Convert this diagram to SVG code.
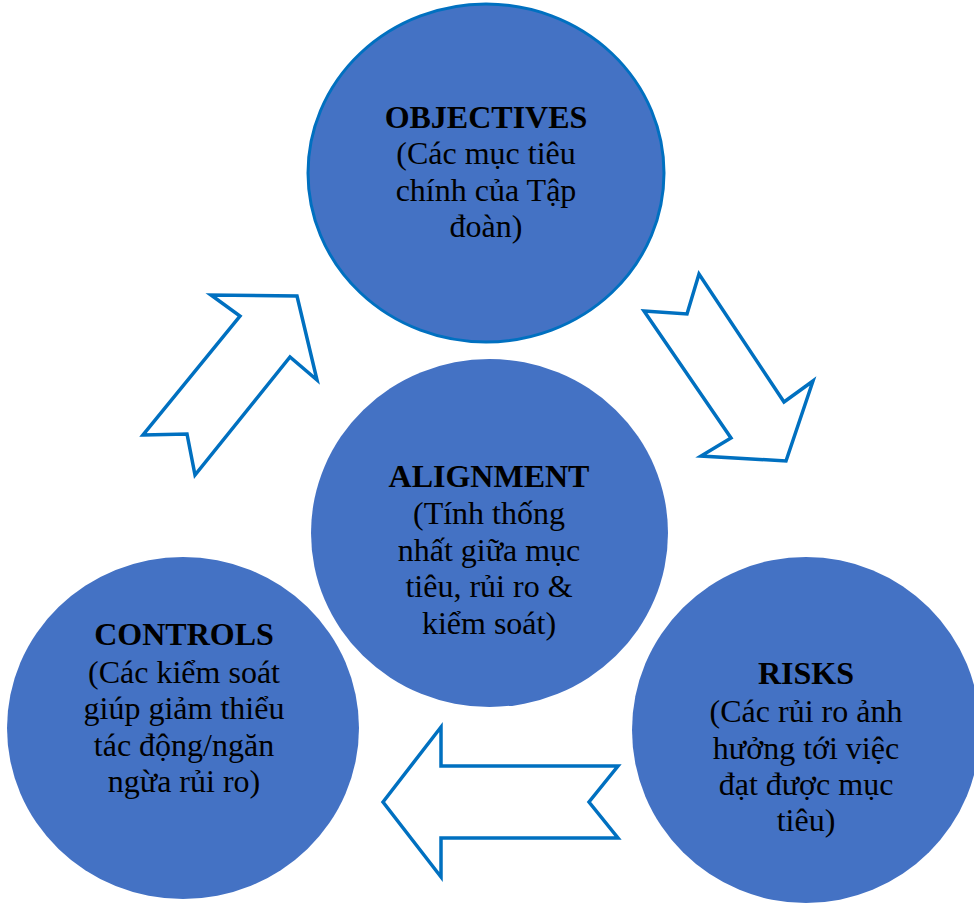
<svg xmlns="http://www.w3.org/2000/svg" width="974" height="906" viewBox="0 0 974 906">
  <style>
    .node { fill: #4472C4; }
    .ring { stroke: #0070C0; stroke-width: 3; }
    .arrow { fill: #FFFFFF; stroke: #0070C0; stroke-width: 3.5; stroke-linejoin: miter; }
    text { font-family: "Liberation Serif", "Times New Roman", serif; font-size: 32px; fill: #000000; text-anchor: middle; }
    .title { font-weight: bold; }
  </style>
  <rect width="974" height="906" fill="#FFFFFF"/>

  <g id="connectors">
    <!-- controls -> objectives -->
    <polygon class="arrow" points="143,435 187,434 195,475 290,357 317,380 297,296 211,295 240,316"/>
    <!-- objectives -> risks -->
    <polygon class="arrow" points="699,274 687,314 644,311 731,438 701,456 786,461 813,381 784,402"/>
    <!-- risks -> controls -->
    <polygon class="arrow" points="383,802 441,727 441,766 618,766 589,802 618,838 441,838 441,877"/>
  </g>

  <g id="objectives">
    <ellipse class="node ring" cx="486" cy="173" rx="178" ry="169"/>
    <text x="486" y="128" class="title">OBJECTIVES</text>
    <text x="486" y="164">(Các mục tiêu</text>
    <text x="486" y="201">chính của Tập</text>
    <text x="486" y="237">đoàn)</text>
  </g>

  <g id="alignment">
    <ellipse class="node" cx="489.5" cy="533" rx="178.5" ry="174"/>
    <text x="489" y="487" class="title">ALIGNMENT</text>
    <text x="489" y="524">(Tính thống</text>
    <text x="489" y="561">nhất giữa mục</text>
    <text x="489" y="597">tiêu, rủi ro &amp;</text>
    <text x="489" y="634">kiểm soát)</text>
  </g>

  <g id="controls">
    <ellipse class="node" cx="183" cy="728" rx="176" ry="171"/>
    <text x="184" y="645" class="title">CONTROLS</text>
    <text x="184" y="683">(Các kiểm soát</text>
    <text x="184" y="719">giúp giảm thiểu</text>
    <text x="184" y="756">tác động/ngăn</text>
    <text x="184" y="792">ngừa rủi ro)</text>
  </g>

  <g id="risks">
    <ellipse class="node" cx="806" cy="730" rx="174" ry="173"/>
    <text x="806" y="684" class="title">RISKS</text>
    <text x="806" y="722">(Các rủi ro ảnh</text>
    <text x="806" y="759">hưởng tới việc</text>
    <text x="806" y="795">đạt được mục</text>
    <text x="806" y="831">tiêu)</text>
  </g>
</svg>
